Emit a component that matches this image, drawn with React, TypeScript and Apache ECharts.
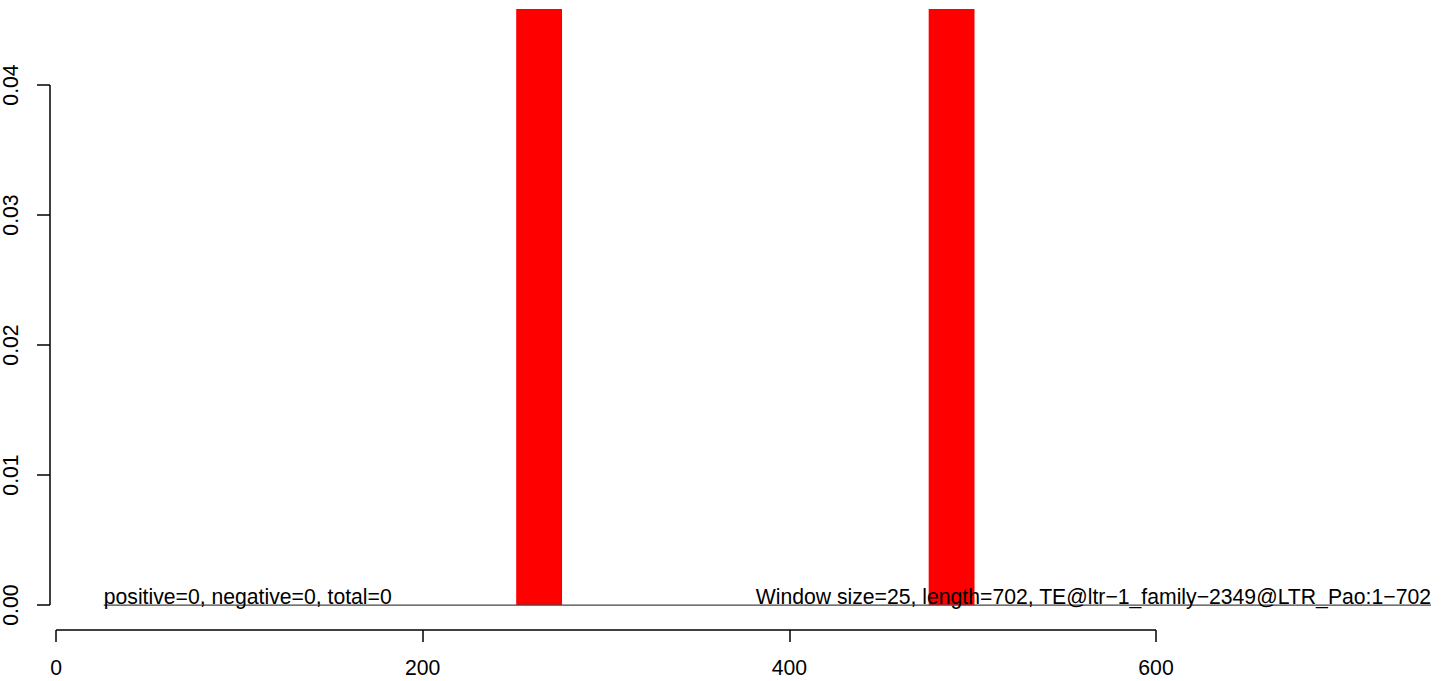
import React, { useEffect, useRef } from "react";
import * as echarts from "echarts";

// ---- data ----
const xTicks = [0, 200, 400, 600];
const yTicks = [0, 0.01, 0.02, 0.03, 0.04];
// windows with a non-zero signal (start, end, value); values exceed the visible range and are clipped
const barStarts = [251, 476];
const barEnds = [276, 501];
const barValues = [0.08, 0.08];
// zero signal line
const baselineX = [26, 750];
const baselineY = [0, 0];
const leftNote = "positive=0, negative=0, total=0";
const rightNote = "Window size=25, length=702, TE@ltr\u22121_family\u22122349@LTR_Pao:1\u2212702";

const X_MIN = -3.3;
const X_MAX = 750;
const Y_MIN = -0.00192;
const Y_MAX = 0.045846;
const FONT = '"Liberation Sans", Arial, Helvetica, sans-serif';
const FS = 21.2;

export default function App() {
  const ref = useRef<HTMLDivElement>(null);
  useEffect(() => {
    document.body.style.margin = "0";
    if (!ref.current) return;
    const chart = echarts.init(ref.current, undefined, { renderer: "svg" });
    const barData = barStarts.map((s, i) => [s, barEnds[i], barValues[i]]);
    const lineData = baselineX.map((x, i) => [x, baselineY[i]]);
    chart.setOption({
      animation: false,
      backgroundColor: "#ffffff",
      grid: { left: 50, right: 13, top: 9, bottom: 51, containLabel: false },
      xAxis: {
        type: "value",
        min: X_MIN,
        max: X_MAX,
        axisLine: { show: false, onZero: false },
        splitLine: { show: false },
        axisTick: {
          show: true,
          customValues: xTicks,
          length: 12,
          lineStyle: { color: "#000", width: 1.5 },
        },
        axisLabel: {
          customValues: xTicks,
          fontSize: FS,
          fontFamily: FONT,
          color: "#000",
          margin: 27,
        },
      },
      yAxis: {
        type: "value",
        min: Y_MIN,
        max: Y_MAX,
        axisLine: { show: false, onZero: false },
        splitLine: { show: false },
        axisTick: {
          show: true,
          customValues: yTicks,
          length: 13,
          lineStyle: { color: "#000", width: 1.5 },
        },
        axisLabel: {
          customValues: yTicks,
          rotate: 90,
          fontSize: FS,
          fontFamily: FONT,
          color: "#000",
          margin: 29,
          formatter: (v: number) => v.toFixed(2),
        },
      },
      series: [
        {
          type: "custom",
          data: barData,
          encode: { x: [0, 1], y: 2 },
          z: 2,
          renderItem: (params: any, api: any) => {
            const p0 = api.coord([api.value(0), api.value(2)]);
            const p1 = api.coord([api.value(1), 0]);
            const cs = params.coordSys;
            const rect = echarts.graphic.clipRectByRect(
              { x: p0[0], y: p0[1], width: p1[0] - p0[0], height: p1[1] - p0[1] },
              { x: cs.x, y: cs.y, width: cs.width, height: cs.height }
            );
            return rect ? { type: "rect", shape: rect, style: { fill: "#ff0000" } } : null;
          },
        },
        {
          type: "line",
          data: lineData,
          symbol: "none",
          z: 3,
          lineStyle: { color: "#444", width: 1.3 },
        },
      ],
    });

    const c = (x: number, y: number) => chart.convertToPixel({ gridIndex: 0 }, [x, y]) as number[];
    const xa0 = c(xTicks[0], Y_MIN);
    const xa1 = c(xTicks[xTicks.length - 1], Y_MIN);
    const ya0 = c(X_MIN, yTicks[0]);
    const ya1 = c(X_MIN, yTicks[yTicks.length - 1]);
    const tl = c(baselineX[0], 0);
    const tr = c(baselineX[1], 0);
    chart.setOption({
      graphic: [
        {
          type: "line",
          z: 50,
          shape: { x1: xa0[0], y1: xa0[1], x2: xa1[0], y2: xa1[1] },
          style: { stroke: "#000", lineWidth: 1.5 },
        },
        {
          type: "line",
          z: 50,
          shape: { x1: ya0[0], y1: ya0[1], x2: ya1[0], y2: ya1[1] },
          style: { stroke: "#000", lineWidth: 1.5 },
        },
        {
          type: "text",
          z: 50,
          x: tl[0],
          y: tl[1] + 2,
          style: { text: leftNote, fontSize: FS, fontFamily: FONT, fill: "#000", align: "left", verticalAlign: "bottom" },
        },
        {
          type: "text",
          z: 50,
          x: tr[0],
          y: tr[1] + 2,
          style: { text: rightNote, fontSize: FS, fontFamily: FONT, fill: "#000", align: "right", verticalAlign: "bottom" },
        },
      ],
    });
    return () => chart.dispose();
  }, []);
  return <div ref={ref} style={{ width: 1444, height: 681 }} />;
}
